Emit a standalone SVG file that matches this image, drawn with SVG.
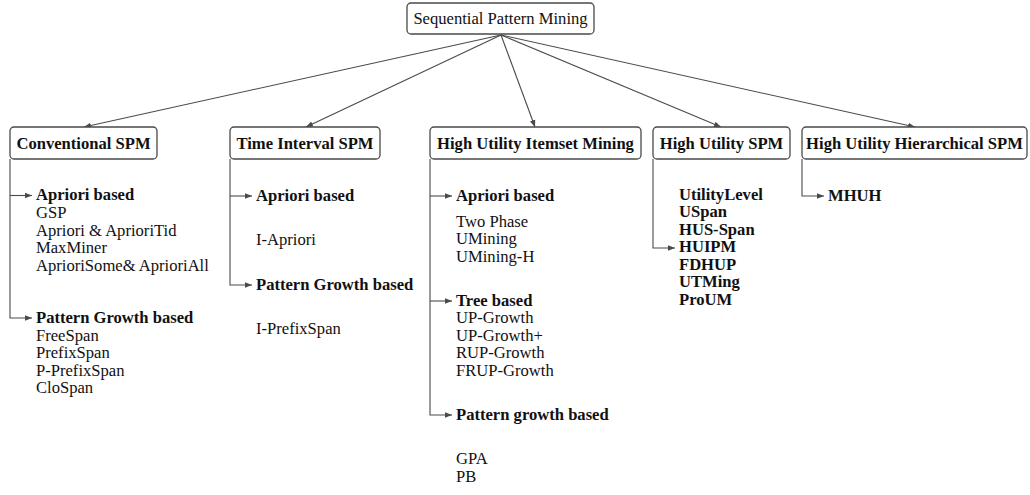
<svg xmlns="http://www.w3.org/2000/svg" width="1030" height="495" viewBox="0 0 1030 495">
<style>
.box{fill:#fff;stroke:#4a4a4a;stroke-width:1.3}
.t{font-family:"Liberation Serif","Times New Roman",serif;font-size:16.6px;fill:#111}
.b{font-weight:bold}
.c{fill:none;stroke:#4a4a4a;stroke-width:1.1}
</style>
<defs>
<marker id="ah" viewBox="0 0 10 10" refX="10" refY="5" markerWidth="7" markerHeight="7" markerUnits="userSpaceOnUse" orient="auto">
<path d="M0,1 L10,5 L0,9 z" fill="#4a4a4a"/>
</marker>
</defs>
<g id="connectors">
<line class="c" x1="501" y1="35" x2="84" y2="127" marker-end="url(#ah)"/>
<line class="c" x1="501" y1="35" x2="306" y2="127" marker-end="url(#ah)"/>
<line class="c" x1="501" y1="35" x2="535" y2="127" marker-end="url(#ah)"/>
<line class="c" x1="501" y1="35" x2="721" y2="127" marker-end="url(#ah)"/>
<line class="c" x1="501" y1="35" x2="915" y2="127" marker-end="url(#ah)"/>
<path class="c" d="M10,159 V318 H32" marker-end="url(#ah)"/>
<path class="c" d="M10,195.5 H32" marker-end="url(#ah)"/>
<path class="c" d="M230,159 V285 H252" marker-end="url(#ah)"/>
<path class="c" d="M230,196 H252" marker-end="url(#ah)"/>
<path class="c" d="M430,159 V415 H452" marker-end="url(#ah)"/>
<path class="c" d="M430,196 H452" marker-end="url(#ah)"/>
<path class="c" d="M430,301 H452" marker-end="url(#ah)"/>
<path class="c" d="M653,159 V248 H675" marker-end="url(#ah)"/>
<path class="c" d="M802,159 V196 H824" marker-end="url(#ah)"/>
</g>
<g id="root">
<rect class="box" x="407" y="3" width="187" height="31" rx="4"/>
<text class="t" x="500.5" y="24" text-anchor="middle">Sequential Pattern Mining</text>
</g>
<g id="conventional">
<rect class="box" x="10" y="127" width="147" height="32" rx="4"/>
<text class="t b" x="83.5" y="148.5" text-anchor="middle">Conventional SPM</text>
<text class="t b" x="36" y="200">Apriori based</text>
<text class="t" x="36" y="218">GSP</text>
<text class="t" x="36" y="235.5">Apriori &amp; AprioriTid</text>
<text class="t" x="36" y="253">MaxMiner</text>
<text class="t" x="36" y="270.5">AprioriSome&amp; AprioriAll</text>
<text class="t b" x="36" y="323">Pattern Growth based</text>
<text class="t" x="36" y="340.5">FreeSpan</text>
<text class="t" x="36" y="358">PrefixSpan</text>
<text class="t" x="36" y="375.5">P-PrefixSpan</text>
<text class="t" x="36" y="393">CloSpan</text>
</g>
<g id="time-interval">
<rect class="box" x="230" y="127" width="150" height="32" rx="4"/>
<text class="t b" x="305" y="148.5" text-anchor="middle">Time Interval SPM</text>
<text class="t b" x="256" y="200.5">Apriori based</text>
<text class="t" x="256" y="245">I-Apriori</text>
<text class="t b" x="256" y="289.5">Pattern Growth based</text>
<text class="t" x="256" y="334">I-PrefixSpan</text>
</g>
<g id="huim">
<rect class="box" x="430" y="127" width="211" height="32" rx="4"/>
<text class="t b" x="535.5" y="148.5" text-anchor="middle">High Utility Itemset Mining</text>
<text class="t b" x="456" y="200.5">Apriori based</text>
<text class="t" x="456" y="226.5">Two Phase</text>
<text class="t" x="456" y="244">UMining</text>
<text class="t" x="456" y="261.5">UMining-H</text>
<text class="t b" x="456" y="305.5">Tree based</text>
<text class="t" x="456" y="323">UP-Growth</text>
<text class="t" x="456" y="340.5">UP-Growth+</text>
<text class="t" x="456" y="358">RUP-Growth</text>
<text class="t" x="456" y="375.5">FRUP-Growth</text>
<text class="t b" x="456" y="419.5">Pattern growth based</text>
<text class="t" x="456" y="464">GPA</text>
<text class="t" x="456" y="481.5">PB</text>
</g>
<g id="huspm">
<rect class="box" x="653" y="127" width="137" height="32" rx="4"/>
<text class="t b" x="721.5" y="148.5" text-anchor="middle">High Utility SPM</text>
<text class="t b" x="679" y="199.5">UtilityLevel</text>
<text class="t b" x="679" y="217">USpan</text>
<text class="t b" x="679" y="234.5">HUS-Span</text>
<text class="t b" x="679" y="252">HUIPM</text>
<text class="t b" x="679" y="269.5">FDHUP</text>
<text class="t b" x="679" y="287">UTMing</text>
<text class="t b" x="679" y="304.5">ProUM</text>
</g>
<g id="huhspm">
<rect class="box" x="802" y="127" width="225" height="32" rx="4"/>
<text class="t b" x="914.5" y="148.5" text-anchor="middle">High Utility Hierarchical SPM</text>
<text class="t b" x="828" y="200.5">MHUH</text>
</g>
</svg>
